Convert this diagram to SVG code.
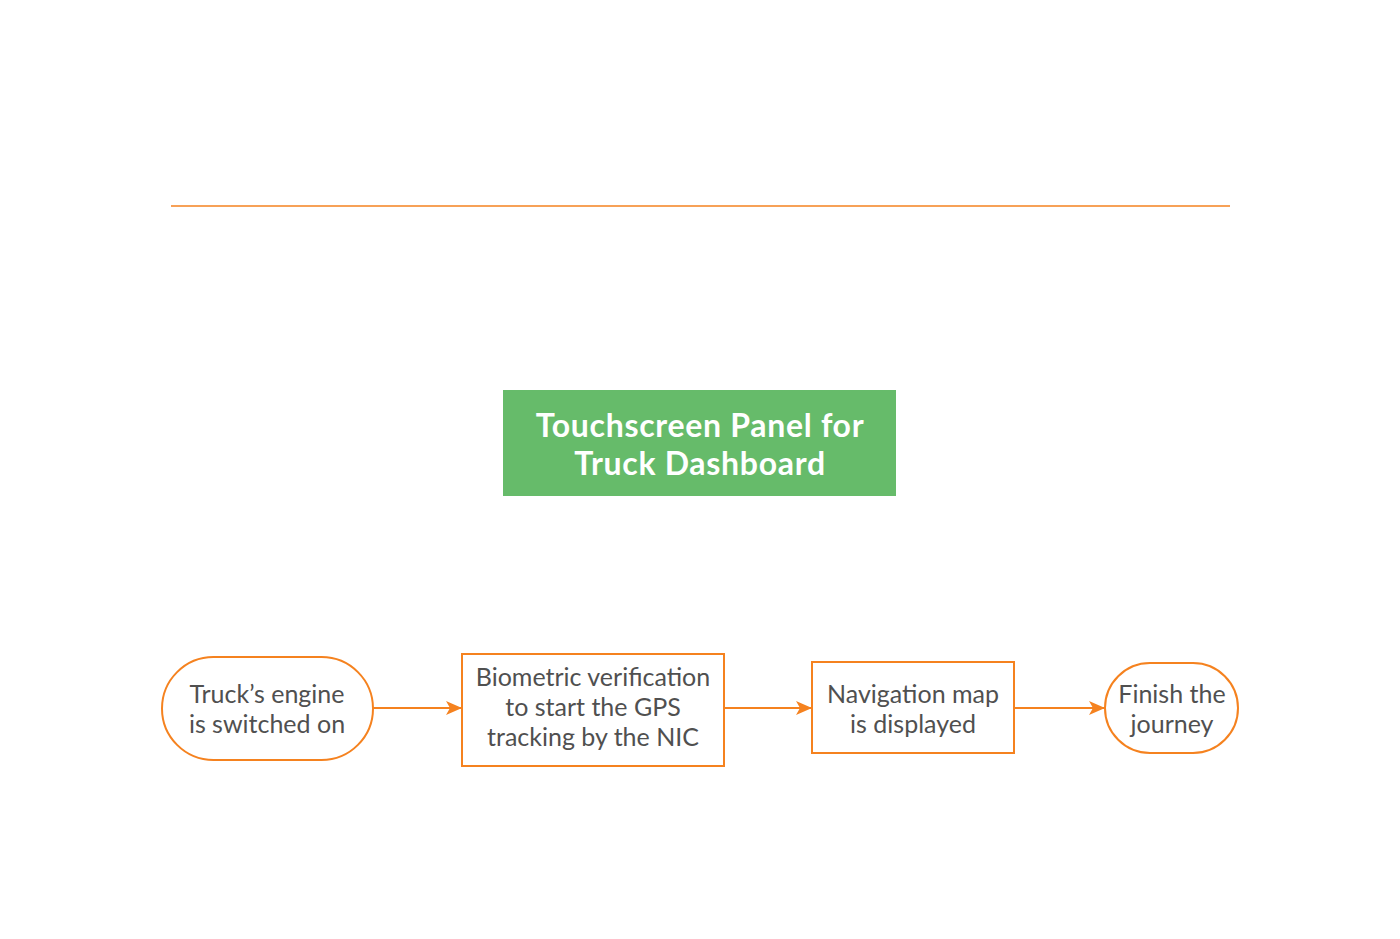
<svg xmlns="http://www.w3.org/2000/svg" width="1400" height="939" viewBox="0 0 1400 939">
<defs>
<style>
.node{fill:#ffffff;stroke:#f5821f;stroke-width:2}
.lbl{font-family:Lato,"Open Sans","Liberation Sans",sans-serif;font-size:25px;fill:#505050;text-anchor:middle}
.title{font-family:Lato,"Open Sans","Liberation Sans",sans-serif;font-size:32px;font-weight:bold;letter-spacing:0.7px;fill:#ffffff;text-anchor:middle}
.conn{stroke:#f5821f;stroke-width:2;fill:none}
</style>
<marker id="arr" viewBox="0 0 16 14" refX="16" refY="7" markerWidth="16" markerHeight="14" markerUnits="userSpaceOnUse" orient="auto">
<path d="M0,0 L16,7 L0,14 L4,7 Z" fill="#f5821f"/>
</marker>
</defs>
<rect width="1400" height="939" fill="#ffffff"/>
<line x1="171" y1="206" x2="1230" y2="206" stroke="#f5821f" stroke-width="1.6"/>
<g id="title">
<rect x="503" y="390" width="393" height="106" fill="#66bb6a"/>
<text class="title" x="700" y="437">Touchscreen Panel for</text>
<text class="title" x="700" y="475">Truck Dashboard</text>
</g>
<g id="connectors">
<line class="conn" x1="373" y1="708" x2="462" y2="708" marker-end="url(#arr)"/>
<line class="conn" x1="724" y1="708" x2="812" y2="708" marker-end="url(#arr)"/>
<line class="conn" x1="1014" y1="708" x2="1105" y2="708" marker-end="url(#arr)"/>
</g>
<g id="n1">
<rect class="node" x="162" y="657" width="211" height="103" rx="51.5" ry="51.5"/>
<text class="lbl" x="267" y="703">Truck’s engine</text>
<text class="lbl" x="267" y="733">is switched on</text>
</g>
<g id="n2">
<rect class="node" x="462" y="654" width="262" height="112"/>
<text class="lbl" x="593" y="686">Biometric verification</text>
<text class="lbl" x="593" y="716">to start the GPS</text>
<text class="lbl" x="593" y="746">tracking by the NIC</text>
</g>
<g id="n3">
<rect class="node" x="812" y="662" width="202" height="91"/>
<text class="lbl" x="913" y="703">Navigation map</text>
<text class="lbl" x="913" y="733">is displayed</text>
</g>
<g id="n4">
<rect class="node" x="1105" y="663" width="133" height="90" rx="45" ry="45"/>
<text class="lbl" x="1172" y="703">Finish the</text>
<text class="lbl" x="1172" y="733">journey</text>
</g>
</svg>
